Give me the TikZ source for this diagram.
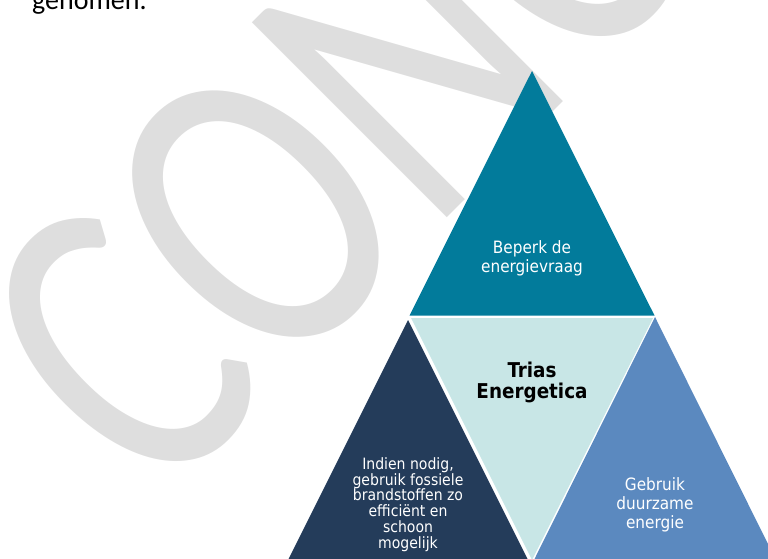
\documentclass[tikz,border=0pt]{standalone}
\usepackage{fontspec}
\setmainfont{DejaVu Sans Condensed}
\newfontfamily\calfont{Carlito}
\newfontfamily\condfont{DejaVu Sans Condensed}
\definecolor{wmgrey}{RGB}{222,222,222}
\definecolor{topteal}{RGB}{2,123,155}
\definecolor{midlight}{RGB}{200,230,230}
\definecolor{leftdark}{RGB}{36,60,90}
\definecolor{rightblue}{RGB}{91,137,191}
\tikzset{
  tri/.style={draw=none},
  lbl/.style={align=center, inner sep=0pt, text=white,
    font=\condfont\fontsize{17}{19}\selectfont},
  smalllbl/.style={align=center, inner sep=0pt, text=white,
    font=\condfont\fontsize{15.6}{15.8}\selectfont},
  titlelbl/.style={align=center, inner sep=0pt, text=black,
    font=\condfont\bfseries\fontsize{20.4}{21}\selectfont},
}
\begin{document}
\begin{tikzpicture}[x=1pt,y=1pt]
\useasboundingbox (0,0) rectangle (768,558);
\clip (0,0) rectangle (768,558);
% watermark
\begin{scope}[shift={(155,48)}, rotate=45, yscale=1.31]
  \node[anchor=base west, inner sep=0pt, transform shape, text=wmgrey,
        font=\calfont\fontsize{328}{328}\selectfont] (wm) at (0,0) {CONCEPT};
\end{scope}
% top partial text
\node[anchor=base west, inner sep=0pt, font=\calfont\fontsize{28}{32}\selectfont] (gen) at (32,548) {genomen.};
% triangles
\fill[topteal] (532,487) -- (409.5,242.5) -- (654.5,242.5) -- cycle;
\fill[midlight] (411,240) -- (653,240) -- (532,-2) -- cycle;
\fill[leftdark] (408,238) -- (286,-6) -- (530,-6) -- cycle;
\fill[rightblue] (655,241) -- (533.5,-3) -- (776.5,-3) -- cycle;
% labels
\node[lbl] (top) at (532,299.5) {Beperk de\\energievraag};
\node[titlelbl] (mid) at (532,175.5) {Trias\\Energetica};
\node[smalllbl] (left) at (408,53.5) {Indien nodig,\\gebruik fossiele\\brandstoffen zo\\efficiënt en\\schoon\\mogelijk};
\node[lbl] (right) at (655,53) {Gebruik\\duurzame\\energie};
\end{tikzpicture}
\end{document}
